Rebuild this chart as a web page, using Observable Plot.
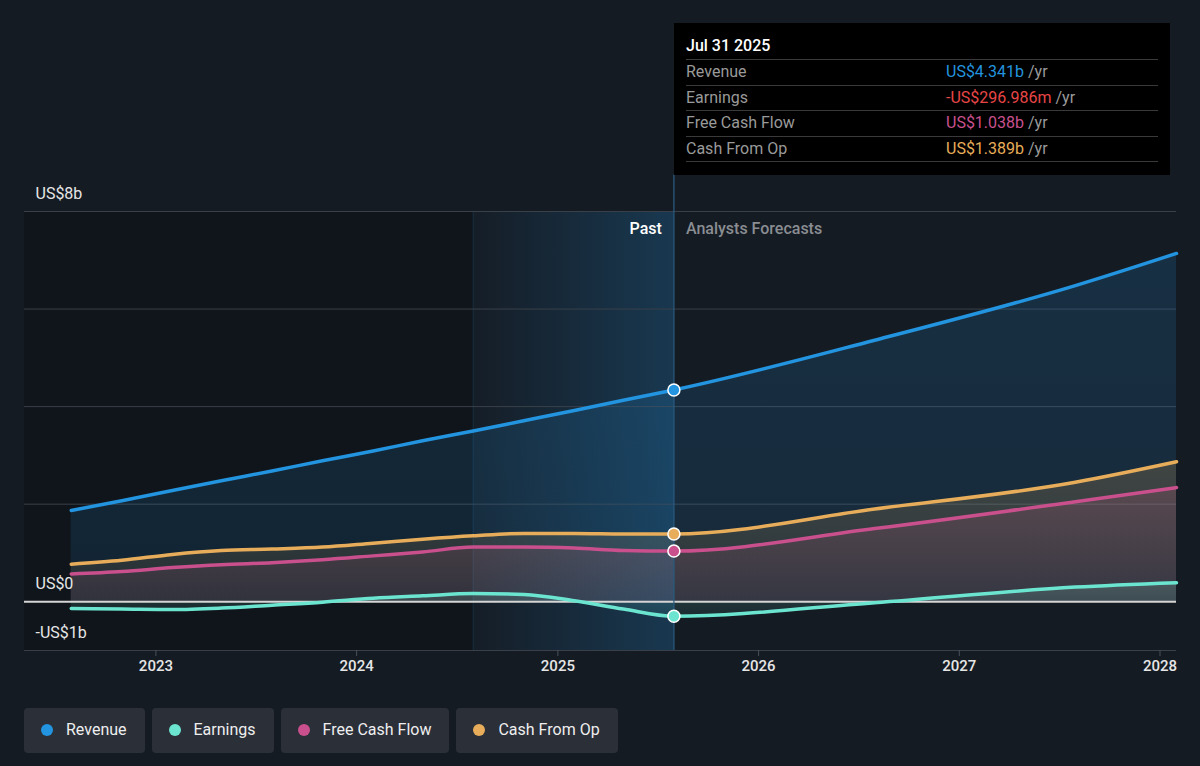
<!DOCTYPE html>
<html>
<head>
<meta charset="utf-8">
<script src="https://cdn.jsdelivr.net/npm/d3@7"></script>
<script src="https://cdn.jsdelivr.net/npm/@observablehq/plot@0.6"></script>
<style>
  html, body { margin: 0; padding: 0; background: #151b23; }
  body { width: 1200px; height: 766px; overflow: hidden; font-family: Roboto, "Noto Sans", sans-serif; }
  #wrap { position: relative; width: 1200px; height: 690px; }
  #tip { position: absolute; left: 674px; top: 23px; width: 496px; height: 152px; background: #000; box-sizing: border-box; padding: 12px 12px 0 12px; color: #fff; }
  #tip .title { font-size: 16px; font-weight: 500; height: 24px; line-height: 22px; border-bottom: 1px solid #3a3a3a; }
  #tip .row { display: flex; height: 24.5px; line-height: 24px; border-bottom: 1px solid #3a3a3a; font-size: 16px; }
  #tip .row .lab { width: 260px; color: #9a9a9a; }
  #tip .row .unit { color: #9a9a9a; }
  #legend { display: flex; gap: 7px; padding-left: 24px; margin-top: 18px; }
  #legend .item { display: flex; align-items: center; height: 45px; background: #2a2f38; border-radius: 4px; padding: 0 18px 2px 17px; color: #eee; font-size: 16px; box-sizing: border-box; }
  #legend .dot { width: 12px; height: 12px; border-radius: 50%; margin-right: 13px; }
</style>
</head>
<body>
<div id="wrap"></div>
<div id="legend"></div>
<script>
// ---- data ----
const dates = ["2022-07-31","2022-10-31","2023-01-31","2023-04-30","2023-07-31","2023-10-31","2024-01-31","2024-04-30","2024-07-31","2024-10-31","2025-01-31","2025-04-30","2025-07-31","2026-07-31","2027-07-31","2028-01-31"];
const revenue  = [1.87, 2.07, 2.28, 2.48, 2.68, 2.89, 3.09, 3.30, 3.50, 3.71, 3.92, 4.13, 4.341, 5.36, 6.48, 7.14];
const earnings = [-0.14, -0.15, -0.16, -0.13, -0.07, -0.01, 0.07, 0.12, 0.17, 0.15, 0.02, -0.15, -0.297, -0.02, 0.30, 0.39];
const fcf      = [0.57, 0.62, 0.70, 0.76, 0.80, 0.86, 0.94, 1.02, 1.12, 1.12, 1.10, 1.05, 1.038, 1.50, 2.05, 2.34];
const cfo      = [0.77, 0.85, 0.97, 1.05, 1.08, 1.12, 1.20, 1.28, 1.35, 1.40, 1.40, 1.39, 1.389, 1.90, 2.45, 2.87];

const seriesNames  = ["Revenue", "Earnings", "Free Cash Flow", "Cash From Op"];
const seriesColors = ["#2394df", "#6ce5d0", "#c9508d", "#e8ad5a"];
const tipValues    = ["US$4.341b", "-US$296.986m", "US$1.038b", "US$1.389b"];
const tipColors    = ["#2394df", "#e84646", "#c9508d", "#e8ad5a"];
const tipDate      = "Jul 31 2025";

const domainStart = "2022-05-07";
const pastStart   = "2024-07-31";
const pastEnd     = "2025-07-31";
const yTicksLabeled = [8, 0, -1];
const yGrid = [-1, 2, 4, 6, 8];

// ---- build table ----
const valuesBy = [revenue, earnings, fcf, cfo];
const rows = [];
seriesNames.forEach((name, i) => {
  dates.forEach((d, j) => rows.push({series: name, date: new Date(d), value: valuesBy[i][j]}));
});
const lastPast = rows.filter(r => +r.date === +new Date(pastEnd));

const fmtY = v => v === 0 ? "US$0" : (v < 0 ? "-US$" + Math.abs(v) + "b" : "US$" + v + "b");

const defs = () => {
  const d = d3.create("svg:defs");
  const g = d.append("linearGradient").attr("id", "pastGrad").attr("x1", 0).attr("x2", 1).attr("y1", 0).attr("y2", 0);
  g.append("stop").attr("offset", "0%").attr("stop-color", "#2394df").attr("stop-opacity", 0.02);
  g.append("stop").attr("offset", "100%").attr("stop-color", "#2394df").attr("stop-opacity", 0.24);
  seriesNames.forEach((n, i) => {
    const a = d.append("linearGradient").attr("id", "areaGrad" + i).attr("x1", 0).attr("x2", 0).attr("y1", 0).attr("y2", 1);
    a.append("stop").attr("offset", "0%").attr("stop-color", seriesColors[i]).attr("stop-opacity", i === 0 ? 0.17 : 0.2);
    a.append("stop").attr("offset", "100%").attr("stop-color", seriesColors[i]).attr("stop-opacity", i === 0 ? 0.12 : 0.08);
  });
  return d.node();
};

const x0 = new Date(domainStart), xEnd = new Date(dates[dates.length - 1]);

const chart = Plot.plot({
  width: 1200,
  height: 690,
  marginLeft: 24,
  marginRight: 24,
  marginTop: 211,
  marginBottom: 40,
  style: {background: "transparent", color: "#e0e0e0", fontFamily: "Roboto, sans-serif", fontSize: "15px"},
  x: {type: "utc", domain: [x0, xEnd], label: null},
  y: {domain: [-1, 8], label: null},
  marks: [
    defs,
    Plot.rect([{x1: x0, x2: new Date(pastStart)}], {x1: "x1", x2: "x2", y1: -1, y2: 8, fill: "#0d1015", fillOpacity: 0.55}),
    Plot.rect([{x1: new Date(pastStart), x2: new Date(pastEnd)}], {x1: "x1", x2: "x2", y1: -1, y2: 8, fill: "url(#pastGrad)"}),
    Plot.ruleX([new Date(pastStart)], {y1: -1, y2: 8, stroke: "#2394df", strokeOpacity: 0.15}),
    Plot.gridY({ticks: yGrid, stroke: "#3a404a", strokeOpacity: 1}),
    ...seriesNames.map((n, i) => Plot.areaY(rows.filter(r => r.series === n), {x: "date", y1: 0, y2: "value", curve: "monotone-x", fill: `url(#areaGrad${i})`})),
    Plot.ruleY([0], {stroke: "#d5d5d5", strokeWidth: 2}),
    Plot.ruleX([new Date(pastEnd)], {y1: -1, y2: 8.75, stroke: "#2a5f86", strokeWidth: 1.2}),
    ...seriesNames.map((n, i) => Plot.lineY(rows.filter(r => r.series === n), {x: "date", y: "value", curve: "monotone-x", stroke: seriesColors[i], strokeWidth: 3.5})),
    Plot.dot(lastPast, {x: "date", y: "value", r: 6, fill: d => seriesColors[seriesNames.indexOf(d.series)], stroke: "#fff", strokeWidth: 1.5}),
    Plot.text([{d: new Date(pastEnd), t: "Past"}], {x: "d", y: 8, text: "t", dy: 17, dx: -12, textAnchor: "end", fill: "#ffffff", fontSize: 16, fontWeight: 500}),
    Plot.text([{d: new Date(pastEnd), t: "Analysts Forecasts"}], {x: "d", y: 8, text: "t", dy: 17, dx: 12, textAnchor: "start", fill: "#8a8d92", fontSize: 16, fontWeight: 500}),
    Plot.axisY({ticks: yTicksLabeled, tickSize: 0, tickPadding: -11, textAnchor: "start", dy: -18, tickFormat: fmtY, fontSize: 16, fill: "#e6e6e6", label: null}),
    Plot.axisX({ticks: d3.utcYear.every(1), tickFormat: "%Y", tickSize: 6, stroke: "#4a505a", fontSize: 15, fontWeight: 500, fill: "#e6e6e6", tickPadding: 4, label: null})
  ]
});
document.getElementById("wrap").appendChild(chart);

// tooltip box
const tip = document.createElement("div");
tip.id = "tip";
let html = `<div class="title">${tipDate}</div>`;
seriesNames.forEach((n, i) => {
  html += `<div class="row"><span class="lab">${n}</span><span style="color:${tipColors[i]}">${tipValues[i]}</span><span class="unit">&nbsp;/yr</span></div>`;
});
tip.innerHTML = html;
document.getElementById("wrap").appendChild(tip);

// legend
const lg = document.getElementById("legend");
seriesNames.forEach((n, i) => {
  const it = document.createElement("div");
  it.className = "item";
  it.innerHTML = `<span class="dot" style="background:${seriesColors[i]}"></span><span>${n}</span>`;
  lg.appendChild(it);
});
</script>
</body>
</html>
